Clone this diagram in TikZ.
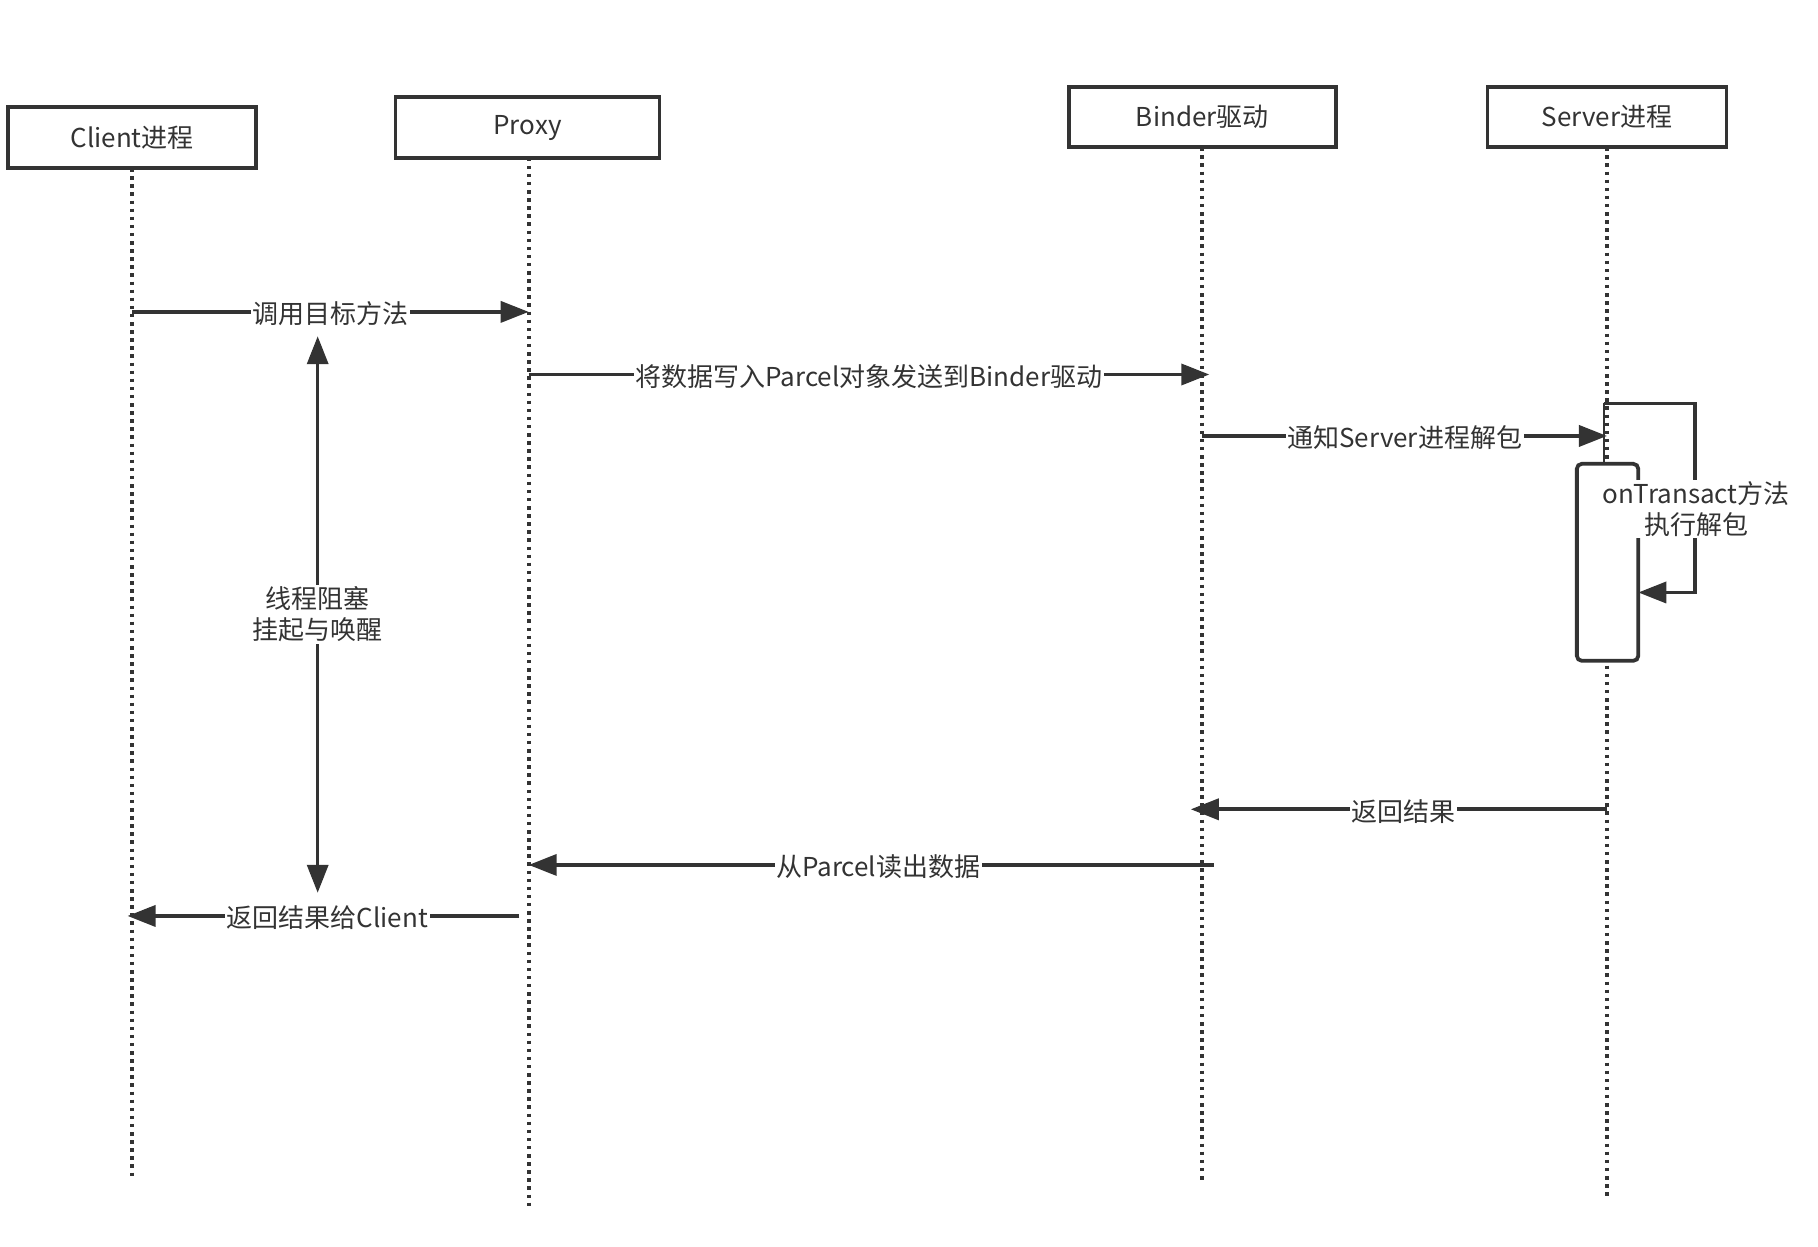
\documentclass[tikz,border=0pt]{standalone}
\usepackage{fontspec}
\setmainfont{Noto Sans CJK SC}
\usetikzlibrary{arrows.meta}
\definecolor{ink}{HTML}{333333}
\begin{document}
\begin{tikzpicture}[x=1.1594pt,y=-1.1594pt,
 font=\fontsize{26}{31}\selectfont, text=ink,
 actor/.style={draw=ink,line width=3.8pt,fill=white,inner sep=0pt,minimum height=60.5pt},
 life/.style={draw=ink,line width=4pt,dash pattern=on 3.5pt off 4.6pt},
 msg/.style={draw=ink,line width=3.6pt,-{Triangle[length=28pt,width=21pt]}},
 dmsg/.style={draw=ink,line width=3.6pt,{Triangle[length=28pt,width=21pt]}-{Triangle[length=28pt,width=21pt]}},
 lbl/.style={fill=white,inner sep=1.5pt,align=center,yshift=-2pt},
 act/.style={draw=ink,line width=3.8pt,fill=white,rounded corners=5pt,inner sep=0pt,minimum width=61.4pt,minimum height=197pt}]
\useasboundingbox[fill=white] (0,0) rectangle (1568,1075);
% lifeline ends
\coordinate (cT) at (114,145);
\coordinate (pT) at (456,136);
\coordinate (bT) at (1037,127);
\coordinate (sT) at (1386,127);
\coordinate (cB) at (114,1018);
\coordinate (pB) at (456,1043);
\coordinate (bB) at (1037,1020);
\coordinate (sB) at (1386,1033);
\draw[life] (cT) -- (cB);
\draw[life] (pT) -- (pB);
\draw[life] (bT) -- (bB);
\draw[life] (sT) -- (sB);
% actors
\node[actor,minimum width=248pt] (client) at (114,118.5) {Client进程};
\node[actor,minimum width=264pt] (proxy) at (455,110) {Proxy};
\node[actor,minimum width=266.5pt] (binder) at (1037,101) {Binder驱动};
\node[actor,minimum width=239pt] (server) at (1386,101) {Server进程};
% activation
\node[act] (act) at (1386.5,485) {};
\coordinate (l0) at (1383,348);
\coordinate (l1) at (1462,348);
\coordinate (l2) at (1462,511);
\coordinate (l3) at (1413,511);
\draw[draw=ink,line width=2pt] (l0) -- (act.north -| l0);
\draw[msg] (l0) -- (l1) -- (l2) -- (l3);
\node[lbl,inner sep=1pt,yshift=2pt] (loopl) at (1463,439) {onTransact方法\\执行解包};
% messages
\coordinate (m1s) at (114,269); \coordinate (m1e) at (456,269);
\draw[msg] (m1s) -- node[lbl] (t1) {调用目标方法} (m1e);
\coordinate (m2s) at (456,323); \coordinate (m2e) at (1043,323);
\draw[msg] (m2s) -- node[lbl] (t2) {将数据写入Parcel对象发送到Binder驱动} (m2e);
\coordinate (m3s) at (1037,376); \coordinate (m3e) at (1386,376);
\draw[msg] (m3s) -- node[lbl] (t3) {通知Server进程解包} (m3e);
\coordinate (m4s) at (1386,698); \coordinate (m4e) at (1027,698);
\draw[msg] (m4s) -- node[lbl,pos=0.49] (t4) {返回结果} (m4e);
\coordinate (m5s) at (1047,746); \coordinate (m5e) at (456,746);
\draw[msg] (m5s) -- node[lbl,pos=0.49] (t5) {从Parcel读出数据} (m5e);
\coordinate (m6s) at (448,790); \coordinate (m6e) at (110,790);
\draw[msg] (m6s) -- node[lbl,pos=0.49] (t6) {返回结果给Client} (m6e);
\coordinate (vT) at (274,290); \coordinate (vB) at (274,770);
\draw[dmsg] (vT) -- node[lbl,pos=0.5,yshift=2pt] (t7) {线程阻塞\\挂起与唤醒} (vB);
\end{tikzpicture}
\end{document}
